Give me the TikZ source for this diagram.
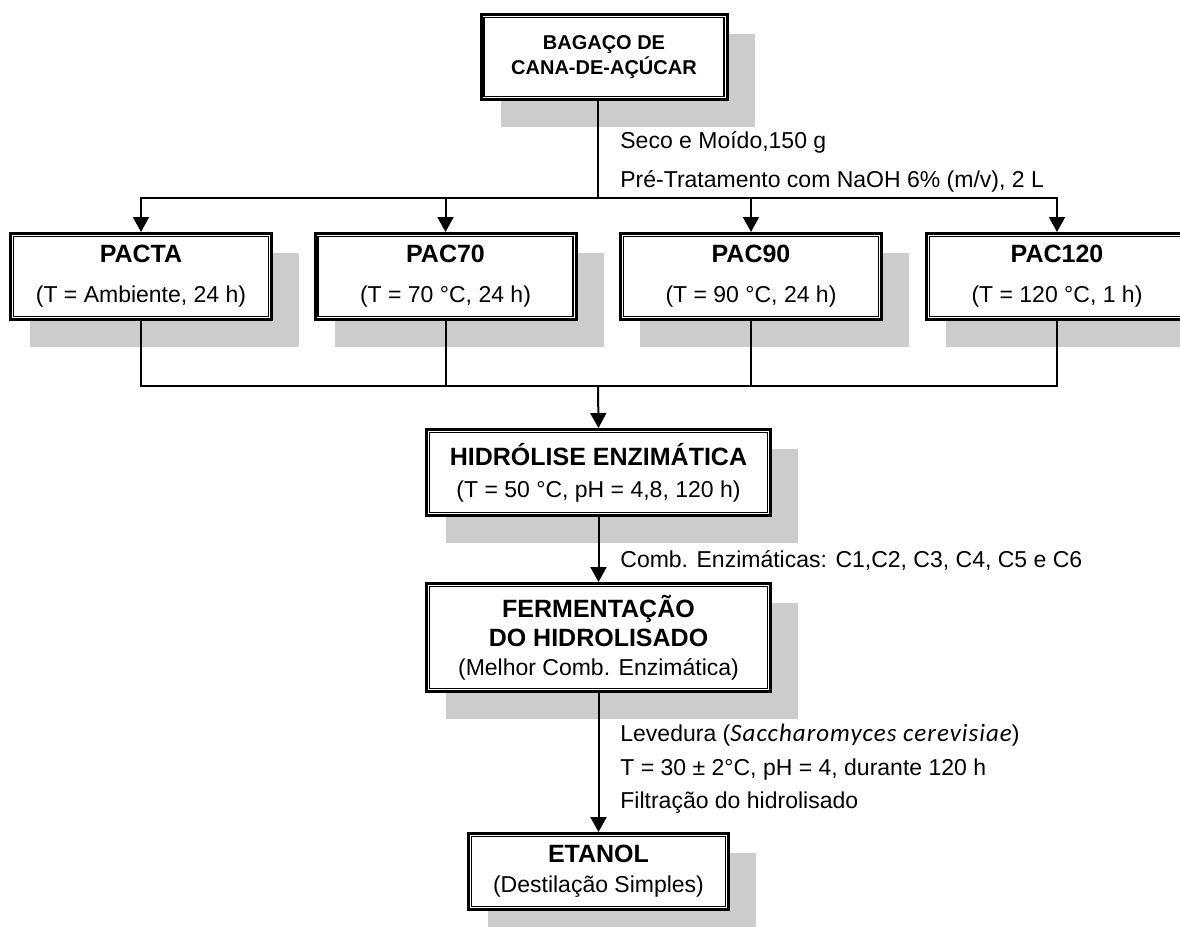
\documentclass[tikz,border=0pt]{standalone}
\usepackage{fontspec}
\setmainfont{Liberation Sans}
\newfontfamily\calfont{Carlito}[LetterSpace=4]
\usetikzlibrary{arrows.meta,calc,backgrounds}
\newcommand{\boxtitle}[1]{{\bfseries\fontsize{12.5}{15}\selectfont #1}}
\begin{document}
\begin{tikzpicture}[x=0.5pt,y=-0.5pt,
  box/.style={draw, line width=1.5pt, line join=miter, fill=white, inner sep=0pt, align=center},
  innerline/.style={line width=0.75pt},
  shade/.style={fill=black!20},
  conn/.style={line width=1pt},
  tip/.tip={Triangle[length=7.5pt,width=8pt]},
  arr/.style={conn, -tip},
  lbl/.style={anchor=base west, inner sep=0pt, font=\fontsize{11.5}{14}\selectfont}
]
\useasboundingbox (0,0) rectangle (1180,927);

% boxes
\node[box, minimum width=123pt, minimum height=42.5pt, font=\bfseries\fontsize{10}{12.5}\selectfont] (top) at (604,57) {BAGAÇO DE\\CANA-DE-AÇÚCAR};
\node[box, minimum width=130.5pt, minimum height=43pt, font=\fontsize{11.5}{20}\selectfont] (pacta) at (141,276.5) {\boxtitle{PACTA}\\(T = Ambiente, 24 h)};
\node[box, minimum width=130.5pt, minimum height=43pt, font=\fontsize{11.5}{20}\selectfont] (pac70) at (445.5,276.5) {\boxtitle{PAC70}\\(T = 70 °C, 24 h)};
\node[box, minimum width=130.5pt, minimum height=43pt, font=\fontsize{11.5}{20}\selectfont] (pac90) at (751,276.5) {\boxtitle{PAC90}\\(T = 90 °C, 24 h)};
\node[box, minimum width=130.5pt, minimum height=43pt, font=\fontsize{11.5}{20}\selectfont] (pac120) at (1057,276.5) {\boxtitle{PAC120}\\(T = 120 °C, 1 h)};
\node[box, minimum width=172pt, minimum height=43pt, font=\fontsize{11.5}{16}\selectfont] (hid) at (598.5,472.5) {\boxtitle{HIDRÓLISE ENZIMÁTICA}\\(T = 50 °C, pH = 4,8, 120 h)};
\node[box, minimum width=172pt, minimum height=54pt, font=\fontsize{11.5}{14.5}\selectfont] (ferm) at (598.5,637.5) {\boxtitle{FERMENTAÇÃO}\\\boxtitle{DO HIDROLISADO}\\(Melhor Comb. Enzimática)};
\node[box, minimum width=130pt, minimum height=38pt, font=\fontsize{11.5}{15}\selectfont] (eta) at (598.5,871.5) {\boxtitle{ETANOL}\\(Destilação Simples)};

% inner lines of double borders
\foreach \n in {top,pacta,pac70,pac90,pac120,hid,ferm,eta}
  \draw[innerline] ($(\n.north west)+(4.5,4.5)$) rectangle ($(\n.south east)+(-4.5,-4.5)$);

% shadows
\begin{pgfonlayer}{background}
\foreach \n in {top,pacta,pac70,pac90,pac120,hid,ferm,eta}
  \fill[shade] ($(\n.north west)+(21,20.5)$) rectangle ($(\n.south east)+(26,26)$);
\end{pgfonlayer}

% connectors
\coordinate (s1) at (598,198);
\coordinate (s2) at (598,386);
\draw[conn] (top.south -| s1) -- (s1);
\draw[conn, tip-tip] (pacta.north) -- (pacta.north |- s1) -- (pac120.north |- s1) -- (pac120.north);
\draw[arr] (pac70.north |- s1) -- (pac70.north);
\draw[arr] (pac90.north |- s1) -- (pac90.north);
\draw[conn] (pacta.south) -- (pacta.south |- s2) -- (pac120.south |- s2) -- (pac120.south);
\draw[conn] (pac70.south) -- (pac70.south |- s2);
\draw[conn] (pac90.south) -- (pac90.south |- s2);
\draw[arr] (s2) -- (hid.north);
\draw[arr] (hid.south) -- (ferm.north);
\draw[arr] (ferm.south) -- (eta.north);

% labels
\node[lbl] (l1) at (620,148) {Seco e Moído,150 g};
\node[lbl] (l2) at (620,187) {Pré-Tratamento com NaOH 6\% (m/v), 2 L};
\node[lbl] (l3) at (620,567) {Comb. Enzimáticas: C1,C2, C3, C4, C5 e C6};
\node[lbl] (l4) at (620,741) {Levedura ({\calfont\itshape\fontsize{12.5}{14}\selectfont Saccharomyces cerevisiae})};
\node[lbl] (l5) at (620,775) {T = 30 ± 2°C, pH = 4, durante 120 h};
\node[lbl] (l6) at (620,808) {Filtração do hidrolisado};
\end{tikzpicture}
\end{document}
